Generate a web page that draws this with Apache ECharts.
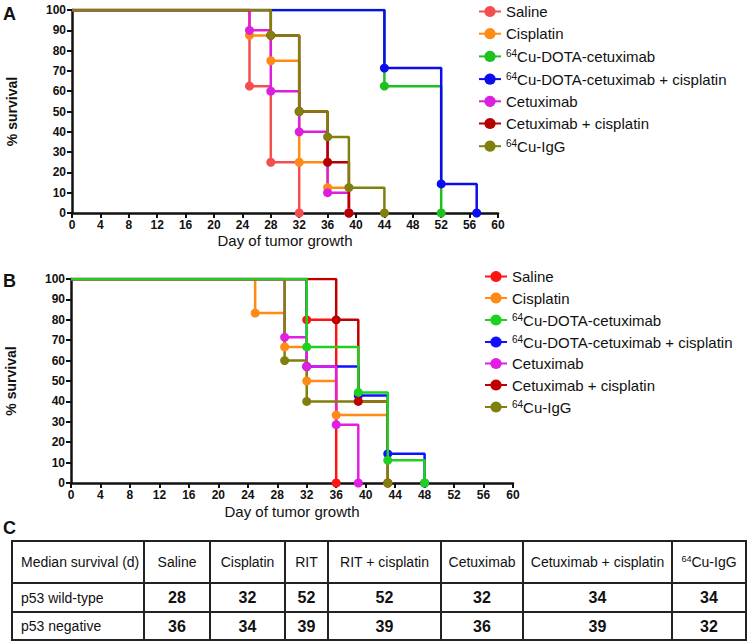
<!DOCTYPE html>
<html>
<head>
<meta charset="utf-8">
<script src="https://cdn.jsdelivr.net/npm/echarts@6/dist/echarts.min.js"></script>
<style>
  html, body { margin: 0; padding: 0; background: #fff; }
  #main { width: 750px; height: 644px; }
</style>
</head>
<body>
<div id="main"></div>
<script>
// Kaplan-Meier steps, [day, % survival]; first point is the start at 100%
var groups = ['Saline', 'Cisplatin', '64Cu-DOTA-cetuximab', '64Cu-DOTA-cetuximab + cisplatin',
              'Cetuximab', 'Cetuximab + cisplatin', '64Cu-IgG'];

// panel A: p53 wild-type
var wtSaline    = [[0, 100], [25, 62.5], [28, 25], [32, 0]];
var wtCisplatin = [[0, 100], [25, 87.5], [28, 75], [32, 25], [36, 12.5], [39, 0]];
var wtRIT       = [[0, 100], [44, 62.5], [52, 0]];
var wtRITcis    = [[0, 100], [44, 71.4], [52, 14.3], [57, 0]];
var wtCetux     = [[0, 100], [25, 90], [28, 60], [32, 40], [36, 10], [39, 0]];
var wtCetuxCis  = [[0, 100], [28, 87.5], [32, 50], [36, 25], [39, 0]];
var wtIgG       = [[0, 100], [28, 87.5], [32, 50], [36, 37.5], [39, 12.5], [44, 0]];

// panel B: p53 negative
var negSaline    = [[0, 100], [32, 80], [36, 0]];
var negCisplatin = [[0, 100], [25, 83.3], [29, 66.7], [32, 50], [36, 33.3], [43, 0]];
var negRIT       = [[0, 100], [32, 66.7], [39, 44.4], [43, 11.1], [48, 0]];
var negRITcis    = [[0, 100], [32, 57.1], [39, 42.9], [43, 14.3], [48, 0]];
var negCetux     = [[0, 100], [29, 71.4], [32, 57.1], [36, 28.6], [39, 0]];
var negCetuxCis  = [[0, 100], [36, 80], [39, 40], [43, 0]];
var negIgG       = [[0, 100], [29, 60], [32, 40], [43, 0]];

var xTicks = [0, 4, 8, 12, 16, 20, 24, 28, 32, 36, 40, 44, 48, 52, 56, 60];
var yTicks = [0, 10, 20, 30, 40, 50, 60, 70, 80, 90, 100];

// panel C table
var tableHeaders = ['Median survival (d)', 'Saline', 'Cisplatin', 'RIT', 'RIT + cisplatin',
                    'Cetuximab', 'Cetuximab + cisplatin', '64Cu-IgG'];
var rowLabels = ['p53 wild-type', 'p53 negative'];
var medianWT  = [28, 32, 52, 52, 32, 34, 34];
var medianNeg = [36, 34, 39, 39, 36, 39, 32];

var colorsA = ['#f44e4e', '#ff8a16', '#1ec21e', '#0c0cf0', '#dc1fdc', '#b50000', '#80800f'];
var colorsB = ['#ff1414', '#ff8a16', '#20d020', '#1010ff', '#e21ee2', '#c00000', '#80800f'];

var FONT = 'Liberation Sans, Arial, Helvetica, sans-serif';

function kmSeries(name, data, color, gridIdx, z) {
  return {
    name: name,
    type: 'line',
    step: 'end',
    xAxisIndex: gridIdx,
    yAxisIndex: gridIdx,
    z: z || 2,
    symbol: 'circle',
    symbolSize: 9,
    showAllSymbol: true,
    animation: false,
    color: color,
    lineStyle: { color: color, width: 2.5 },
    itemStyle: { color: color },
    data: data.map(function (d, i) {
      return i === 0 ? { value: d, symbol: 'none' } : { value: d };
    })
  };
}

var dataA = [wtSaline, wtCisplatin, wtRIT, wtRITcis, wtCetux, wtCetuxCis, wtIgG];
var dataB = [negSaline, negCisplatin, negRIT, negRITcis, negCetux, negCetuxCis, negIgG];

var series = [];
groups.forEach(function (g, i) {
  series.push(kmSeries(g, dataA[i], colorsA[i], 0));
});
groups.forEach(function (g, i) {
  // green curve sits on top in panel B
  series.push(kmSeries('B: ' + g, dataB[i], colorsB[i], 1, i === 2 ? 3 : 2));
});

var richLegend = {
  sup: { fontSize: 10, fontFamily: FONT, color: '#111', verticalAlign: 'top', padding: [0, 0, 6, 0] },
  t: { fontSize: 15, fontFamily: FONT, color: '#111' }
};
function legendFmt(name) {
  var n = name.replace(/^B: /, '');
  if (n.indexOf('64') === 0) return '{sup|64}{t|' + n.slice(2) + '}';
  return '{t|' + n + '}';
}

function xAxisFor(gridIdx, gap) {
  return {
    gridIndex: gridIdx,
    type: 'value',
    min: xTicks[0],
    max: xTicks[xTicks.length - 1],
    interval: xTicks[1] - xTicks[0],
    name: 'Day of tumor growth',
    nameLocation: 'middle',
    nameGap: gap,
    nameTextStyle: { fontFamily: FONT, fontSize: 15, color: '#111' },
    axisLine: { lineStyle: { color: '#111', width: 2.5 } },
    axisTick: { show: true, length: 5, lineStyle: { color: '#111', width: 2 } },
    axisLabel: { fontFamily: FONT, fontSize: 12, fontWeight: 'bold', color: '#111', margin: 6 },
    splitLine: { show: false }
  };
}
function yAxisFor(gridIdx) {
  return {
    gridIndex: gridIdx,
    type: 'value',
    min: yTicks[0],
    max: yTicks[yTicks.length - 1],
    interval: yTicks[1] - yTicks[0],
    name: '% survival',
    nameLocation: 'middle',
    nameGap: 53,
    nameTextStyle: { fontFamily: FONT, fontSize: 14, fontWeight: 'bold', color: '#111' },
    axisLine: { show: true, lineStyle: { color: '#111', width: 2.5 } },
    axisTick: { show: true, length: 5, lineStyle: { color: '#111', width: 2 } },
    axisLabel: { fontFamily: FONT, fontSize: 12, fontWeight: 'bold', color: '#111', margin: 6 },
    splitLine: { show: false }
  };
}

// table graphics
var colWidths = [132, 66, 75, 43, 113, 82, 149, 74];
var rowHeights = [42, 29, 28];
var tableLeft = 12, tableTop = 541;
var graphics = [];
var colEdges = [tableLeft];
colWidths.forEach(function (w) { colEdges.push(colEdges[colEdges.length - 1] + w); });
var rowEdges = [tableTop];
rowHeights.forEach(function (h) { rowEdges.push(rowEdges[rowEdges.length - 1] + h); });
var tableRight = colEdges[colEdges.length - 1], tableBottom = rowEdges[rowEdges.length - 1];

graphics.push({
  type: 'rect', silent: true,
  shape: { x: tableLeft, y: tableTop, width: tableRight - tableLeft, height: tableBottom - tableTop },
  style: { fill: 'none', stroke: '#222', lineWidth: 2 }
});
colEdges.slice(1, -1).forEach(function (x) {
  graphics.push({ type: 'line', silent: true, shape: { x1: x, y1: tableTop, x2: x, y2: tableBottom },
                  style: { stroke: '#222', lineWidth: 2 } });
});
rowEdges.slice(1, -1).forEach(function (y) {
  graphics.push({ type: 'line', silent: true, shape: { x1: tableLeft, y1: y, x2: tableRight, y2: y },
                  style: { stroke: '#222', lineWidth: 2 } });
});

function cellText(txt, col, row, opts) {
  var cx = col === 0 ? colEdges[0] + 9 : (colEdges[col] + colEdges[col + 1]) / 2;
  var cy = (rowEdges[row] + rowEdges[row + 1]) / 2;
  var st = {
    text: txt, fontFamily: FONT, fontSize: opts.size, fontWeight: opts.bold ? 'bold' : 'normal',
    fill: '#111', align: col === 0 ? 'left' : 'center', verticalAlign: 'middle'
  };
  if (opts.rich) st.rich = opts.rich;
  graphics.push({ type: 'text', silent: true, x: cx, y: cy, style: st });
}

tableHeaders.forEach(function (h, c) {
  if (h.indexOf('64') === 0) {
    cellText('{sup|64}{t|' + h.slice(2) + '}', c, 0, {
      size: 14,
      rich: {
        sup: { fontSize: 9, fontFamily: FONT, fill: '#111', verticalAlign: 'top', padding: [0, 0, 6, 0] },
        t: { fontSize: 14, fontFamily: FONT, fill: '#111' }
      }
    });
  } else {
    cellText(h, c, 0, { size: 14 });
  }
});
[medianWT, medianNeg].forEach(function (vals, r) {
  cellText(rowLabels[r], 0, r + 1, { size: 14 });
  vals.forEach(function (v, c) {
    cellText(String(v), c + 1, r + 1, { size: 16, bold: true });
  });
});

// panel letters
[['A', 5], ['B', 272], ['C', 519]].forEach(function (p) {
  graphics.push({ type: 'text', silent: true, x: 3, y: p[1],
    style: { text: p[0], fontFamily: FONT, fontSize: 18, fontWeight: 'bold', fill: '#111' } });
});

var option = {
  backgroundColor: '#fff',
  animation: false,
  grid: [
    { left: 72, right: 252, top: 10, bottom: 431, containLabel: false, outerBoundsMode: 'none' },
    { left: 71, right: 237, top: 279, bottom: 161, containLabel: false, outerBoundsMode: 'none' }
  ],
  xAxis: [xAxisFor(0, 20), xAxisFor(1, 21)],
  yAxis: [yAxisFor(0), yAxisFor(1)],
  legend: [
    {
      data: groups,
      orient: 'vertical', left: 478, top: 4, padding: 0,
      itemWidth: 22, itemHeight: 14, itemGap: 7.2,
      selectedMode: false,
      formatter: legendFmt,
      textStyle: { rich: richLegend }
    },
    {
      data: groups.map(function (g) { return 'B: ' + g; }),
      orient: 'vertical', left: 484, top: 269, padding: 0,
      itemWidth: 22, itemHeight: 14, itemGap: 6.5,
      selectedMode: false,
      formatter: legendFmt,
      textStyle: { rich: richLegend }
    }
  ],
  graphic: graphics,
  series: series
};

var chart = echarts.init(document.getElementById('main'), null, { renderer: 'svg' });
chart.setOption(option);
window.addEventListener('resize', function () { chart.resize(); });
</script>
</body>
</html>
